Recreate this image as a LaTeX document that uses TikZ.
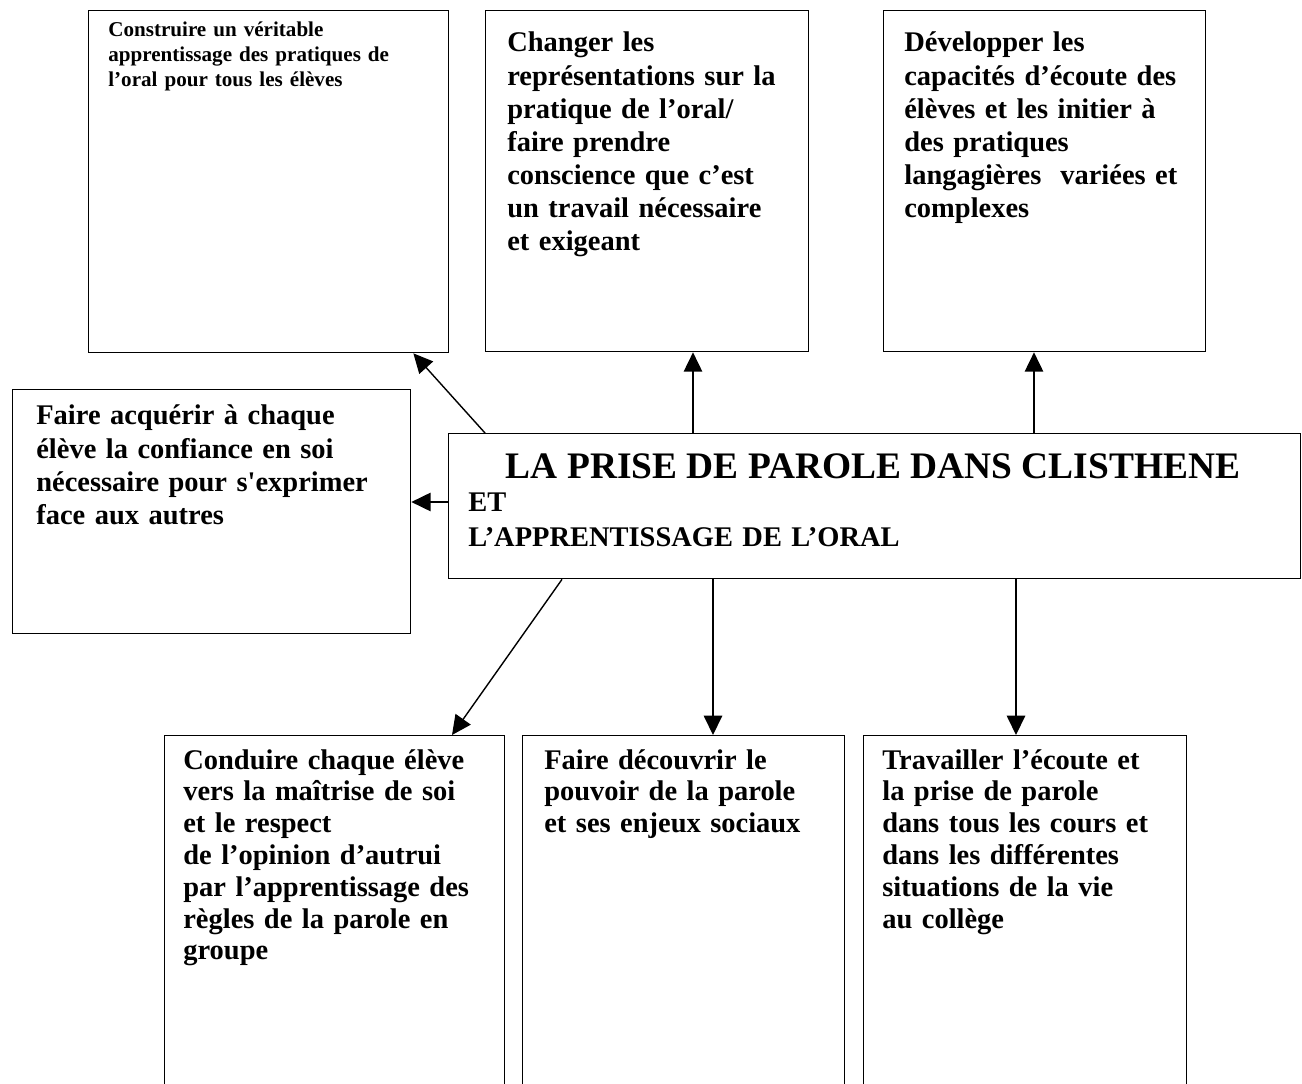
\documentclass[tikz,border=0pt]{standalone}
\usepackage{fontspec}
\setmainfont{Liberation Serif}[Ligatures=TeXOff]
\usepackage{tikz}
\usetikzlibrary{arrows.meta}

\begin{document}
\begin{tikzpicture}[x=0.02cm,y=-0.02cm,
	box/.style={draw,line width=0.8pt,anchor=north west,inner sep=0pt},
	txt/.style={anchor=base west,inner sep=0pt,text width=9cm,align=left,
		font=\bfseries\fontsize{16.2}{18.8}\selectfont},
	lowtxt/.style={txt,font=\bfseries\fontsize{16.2}{18.1}\selectfont},
	smalltxt/.style={txt,font=\bfseries\fontsize{12}{14.2}\selectfont},
	bigtxt/.style={anchor=base,inner sep=0pt,font=\bfseries\fontsize{21.3}{25}\selectfont},
	conn/.style={line width=0.8pt},
	>={Triangle[length=11pt,width=10.5pt]}]
	\useasboundingbox (0,0) rectangle (1302,1084);
	\clip (0,0) rectangle (1302,1084);
	%
	\node[box,minimum width=7.2cm,minimum height=6.84cm] (tl) at (88,10) {};
	\node[box,minimum width=6.46cm,minimum height=6.82cm] (tm) at (485,10) {};
	\node[box,minimum width=6.44cm,minimum height=6.82cm] (tr) at (883,10) {};
	\node[box,minimum width=7.96cm,minimum height=4.88cm] (lf) at (12,389) {};
	\node[box,minimum width=17.04cm,minimum height=2.9cm] (c) at (448,433) {};
	\node[box,minimum width=6.8cm,minimum height=8cm] (b1) at (164,735) {};
	\node[box,minimum width=6.44cm,minimum height=8cm] (b2) at (522,735) {};
	\node[box,minimum width=6.46cm,minimum height=8cm] (b3) at (863,735) {};
	%
	\node[smalltxt] (tltext) at ([shift={(20,27)}]tl.north west)
		{Construire un véritable\\ apprentissage des pratiques de\\ l’oral pour tous les élèves};
	\node[txt] (tmtext) at ([shift={(22,42)}]tm.north west)
		{Changer les\\ représentations sur la\\ pratique de l’oral/\\ faire prendre\\
		conscience que c’est\\ un travail nécessaire\\ et exigeant};
	\node[txt] (trtext) at ([shift={(21,42)}]tr.north west)
		{Développer les\\ capacités d’écoute des\\ élèves et les initier à\\ des pratiques\\
		langagières\ \ variées et\\ complexes};
	\node[txt] (lftext) at ([shift={(24,36)}]lf.north west)
		{Faire acquérir à chaque\\ élève la confiance en soi\\ nécessaire pour s'exprimer\\ face aux autres};
	\node[bigtxt] (ctitle) at ([shift={(425,46)}]c.north west) {LA PRISE DE PAROLE DANS CLISTHENE};
	\node[txt] (csub) at ([shift={(20,79)}]c.north west) {ET\\[1pt] L’APPRENTISSAGE DE L’ORAL};
	\node[lowtxt] (b1text) at ([shift={(19,34)}]b1.north west)
		{Conduire chaque élève\\ vers la maîtrise de soi\\ et le respect\\ de l’opinion d’autrui\\
		par l’apprentissage des\\ règles de la parole en\\ groupe};
	\node[lowtxt] (b2text) at ([shift={(22,34)}]b2.north west)
		{Faire découvrir le\\ pouvoir de la parole\\ et ses enjeux sociaux};
	\node[lowtxt] (b3text) at ([shift={(19,34)}]b3.north west)
		{Travailler l’écoute et\\ la prise de parole\\ dans tous les cours et\\ dans les différentes\\
		situations de la vie\\ au collège};
	%
	\coordinate (tlfoot) at ([shift={(37,0)}]c.north west);
	\coordinate (tmfoot) at ([shift={(245,0)}]c.north west);
	\coordinate (trfoot) at ([shift={(586,0)}]c.north west);
	\coordinate (lffoot) at ([shift={(0,69)}]c.north west);
	\coordinate (b1foot) at ([shift={(114,0)}]c.south west);
	\coordinate (b2foot) at ([shift={(265,0)}]c.south west);
	\coordinate (b3foot) at ([shift={(568,0)}]c.south west);
	%
	\path[->,conn]
	(tlfoot) edge ([shift={(-36,0)}]tl.south east)
	(tmfoot) edge (tmfoot |- tm.south)
	(trfoot) edge (trfoot |- tr.south)
	(lffoot) edge (lffoot -| lf.east)
	(b1foot) edge ([shift={(288,0)}]b1.north west)
	(b2foot) edge (b2foot |- b2.north)
	(b3foot) edge (b3foot |- b3.north);
\end{tikzpicture}
\end{document}
